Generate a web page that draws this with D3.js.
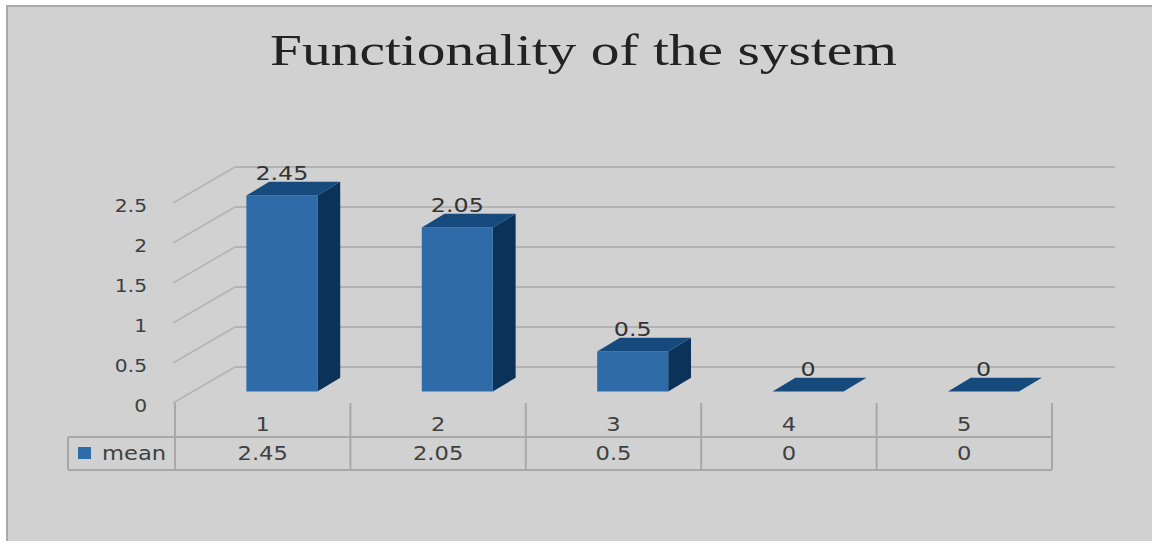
<!DOCTYPE html>
<html><head><meta charset="utf-8">
<script src="https://cdn.jsdelivr.net/npm/d3@7/dist/d3.min.js"></script>
<style>body{margin:0;background:#fff;}svg{display:block;}</style>
</head><body>
<svg id="c" width="1152" height="541"></svg>
<script>
const title = "Functionality of the system";
const categories = ["1","2","3","4","5"];
const meanValues = [2.45, 2.05, 0.5, 0, 0];
const valueLabels = ["2.45","2.05","0.5","0","0"];
const yTicks = [0, 0.5, 1, 1.5, 2, 2.5];
const yTickLabels = ["0","0.5","1","1.5","2","2.5"];
const seriesName = "mean";

const svg = d3.select("#c");
const SX = 1.19;
const txtColor = "#404040";

svg.append("rect").attr("x",7).attr("y",6).attr("width",1160).attr("height",550)
  .attr("fill","#d1d1d1").attr("stroke","#a9a9a9").attr("stroke-width",2);

// front-plane geometry
const x0 = 175, x1 = 1052;
const depthDX = 60, depthDY = -36;
const y = d3.scaleLinear().domain([0, 2.5]).range([403, 203]);
const xBand = d3.scaleBand().domain(categories).range([x0, x1]).paddingInner(0.595).paddingOuter(0.2975);
const xCell = d3.scaleBand().domain(categories).range([x0, x1]);
const P = (x, v, t) => [x + t*depthDX, y(v) + t*depthDY];

function stext(g, str, x, yy, size, anchor, family, color){
  return g.append("text").attr("transform",`translate(${x},${yy}) scale(${SX},1)`)
    .attr("text-anchor",anchor).attr("font-family",family||"DejaVu Sans")
    .attr("font-size",size).attr("fill",color||txtColor).text(str);
}

// back wall gridlines + left wall diagonals
const grid = svg.append("g");
yTicks.forEach(v => {
  const [bx, by] = P(x0, v, 1);
  grid.append("line").attr("x1",bx).attr("x2",1115).attr("y1",by).attr("y2",by)
    .attr("stroke","#b3b3b3").attr("stroke-width",2);
  const [fx, fy] = P(x0, v, 0);
  grid.append("line").attr("x1",fx-2).attr("y1",fy).attr("x2",bx).attr("y2",by)
    .attr("stroke","#b3b3b3").attr("stroke-width",1.5);
});
yTicks.forEach((v,i) => {
  stext(svg, yTickLabels[i], 147, y(v)+9, 17, "end");
});

// bars
const t0 = 0.32, t1 = 0.70;
const bars = svg.append("g");
categories.forEach((c,i) => {
  const v = meanValues[i];
  const xl = xBand(c), xr = xl + xBand.bandwidth();
  const poly = pts => pts.map(p => p.join(",")).join(" ");
  // side face
  bars.append("polygon").attr("points", poly([P(xr,0,t0),P(xr,0,t1),P(xr,v,t1),P(xr,v,t0)])).attr("fill","#0b3259");
  // front face
  bars.append("polygon").attr("points", poly([P(xl,0,t0),P(xr,0,t0),P(xr,v,t0),P(xl,v,t0)])).attr("fill","#2e6ba8");
  // top face
  bars.append("polygon").attr("points", poly([P(xl,v,t0),P(xr,v,t0),P(xr,v,t1),P(xl,v,t1)])).attr("fill","#164a7c");
  // label
  const [lx] = P(xl + xBand.bandwidth()/2, v, t0);
  const [, ly] = P(xl, v, t1);
  stext(svg, valueLabels[i], lx, ly - 2, 20, "middle", "DejaVu Sans", "#333");
});

// data table
const tbl = svg.append("g");
const lc = "#a8a8a8";
tbl.append("line").attr("x1",68).attr("x2",x1).attr("y1",437).attr("y2",437).attr("stroke",lc).attr("stroke-width",2);
tbl.append("line").attr("x1",68).attr("x2",x1).attr("y1",470).attr("y2",470).attr("stroke",lc).attr("stroke-width",2);
tbl.append("line").attr("x1",68).attr("x2",68).attr("y1",437).attr("y2",470).attr("stroke",lc).attr("stroke-width",2);
[x0, ...categories.map(c => xCell(c) + xCell.bandwidth())].forEach(xx => {
  tbl.append("line").attr("x1",xx).attr("x2",xx).attr("y1",403).attr("y2",470).attr("stroke",lc).attr("stroke-width",2);
});
categories.forEach((c,i) => {
  const cx = xCell(c) + xCell.bandwidth()/2;
  stext(tbl, c, cx, 431, 19, "middle");
  stext(tbl, valueLabels[i], cx, 460, 19, "middle");
});
tbl.append("rect").attr("x",78).attr("y",447).attr("width",13).attr("height",12).attr("fill","#2e6ba8");
stext(tbl, seriesName, 102, 460, 19, "start");

// title
const tt = svg.append("text").attr("font-family","Liberation Serif").attr("font-size",44)
  .attr("fill","#222").attr("text-anchor","middle").text(title);
const w = tt.node().getComputedTextLength();
tt.attr("transform",`translate(583.5,65) scale(${627/w},1)`);
</script>
</body></html>
